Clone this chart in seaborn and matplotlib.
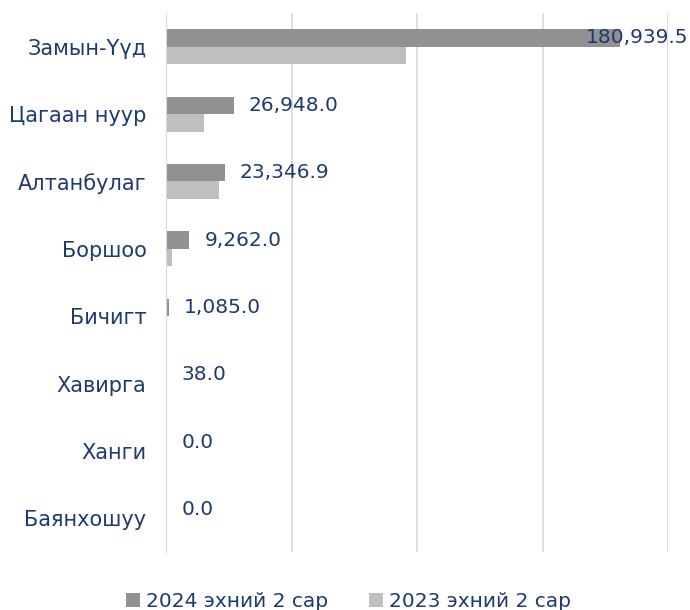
import seaborn as sns
import pandas as pd
import numpy as np
import matplotlib.pyplot as plt

# data
ports = ['Замын-Үүд', 'Цагаан нуур', 'Алтанбулаг', 'Боршоо', 'Бичигт', 'Хавирга', 'Ханги', 'Баянхошуу']
v2024 = [180939.5, 26948.0, 23346.9, 9262.0, 1085.0, 38.0, 0.0, 0.0]
v2023 = [95800.0, 15100.0, 21100.0, 2300.0, 0.0, 0.0, 0.0, 150.0]
series = ['2024 эхний 2 сар', '2023 эхний 2 сар']

data = pd.DataFrame({
    'port': ports * 2,
    'value': v2024 + v2023,
    'series': [series[0]] * len(ports) + [series[1]] * len(ports),
})

sns.set_style('white')
plt.rcParams['font.family'] = ['DejaVu Sans']
navy = '#1F3A6E'
fs = 14.5

fig = plt.figure(figsize=(6.9, 6.1), dpi=100)
ax = fig.add_axes([166 / 690, 1 - 552 / 610, (668 - 166) / 690, (552 - 13) / 610])

sns.barplot(data=data, x='value', y='port', hue='series', orient='h',
            palette=['#919191', '#BFBFBF'], width=0.52, linewidth=0, ax=ax, legend=True)

ax.set_xlim(0, 200000)
ax.set_xticks([0, 50000, 100000, 150000, 200000])
ax.set_xticklabels([])
ax.xaxis.grid(True, color='#D9D9D9', linewidth=1.2)
ax.set_axisbelow(True)
ax.tick_params(axis='y', length=0, labelsize=15, labelcolor=navy, pad=14)
ax.tick_params(axis='x', length=0)
ax.set_xlabel('')
ax.set_ylabel('')
for s in ['top', 'right', 'bottom']:
    ax.spines[s].set_visible(False)
ax.spines['left'].set_color('#D9D9D9')

# value labels for the 2024 series
bars24 = ax.containers[0]
for bar, v in zip(bars24, v2024):
    yc = bar.get_y() + bar.get_height() / 2
    txt = f'{v:,.1f}'
    if v > 0.85 * 200000:
        ax.annotate(txt, xy=(1.04, yc), xycoords=('axes fraction', 'data'),
                    ha='right', va='center', fontsize=fs, color=navy)
    else:
        ax.annotate(txt, xy=(v, yc), xytext=(11, 0), textcoords='offset points',
                    ha='left', va='center', fontsize=fs, color=navy)

ax.legend_.remove()
handles, labels = ax.get_legend_handles_labels()
fig.legend(handles, labels, loc='lower center', bbox_to_anchor=(0.505, -0.032), ncol=2,
           frameon=False, fontsize=fs, labelcolor=navy, handlelength=0.7, handleheight=0.7,
           handletextpad=0.3, columnspacing=2.0)

plt.savefig('out.png', dpi=100)
